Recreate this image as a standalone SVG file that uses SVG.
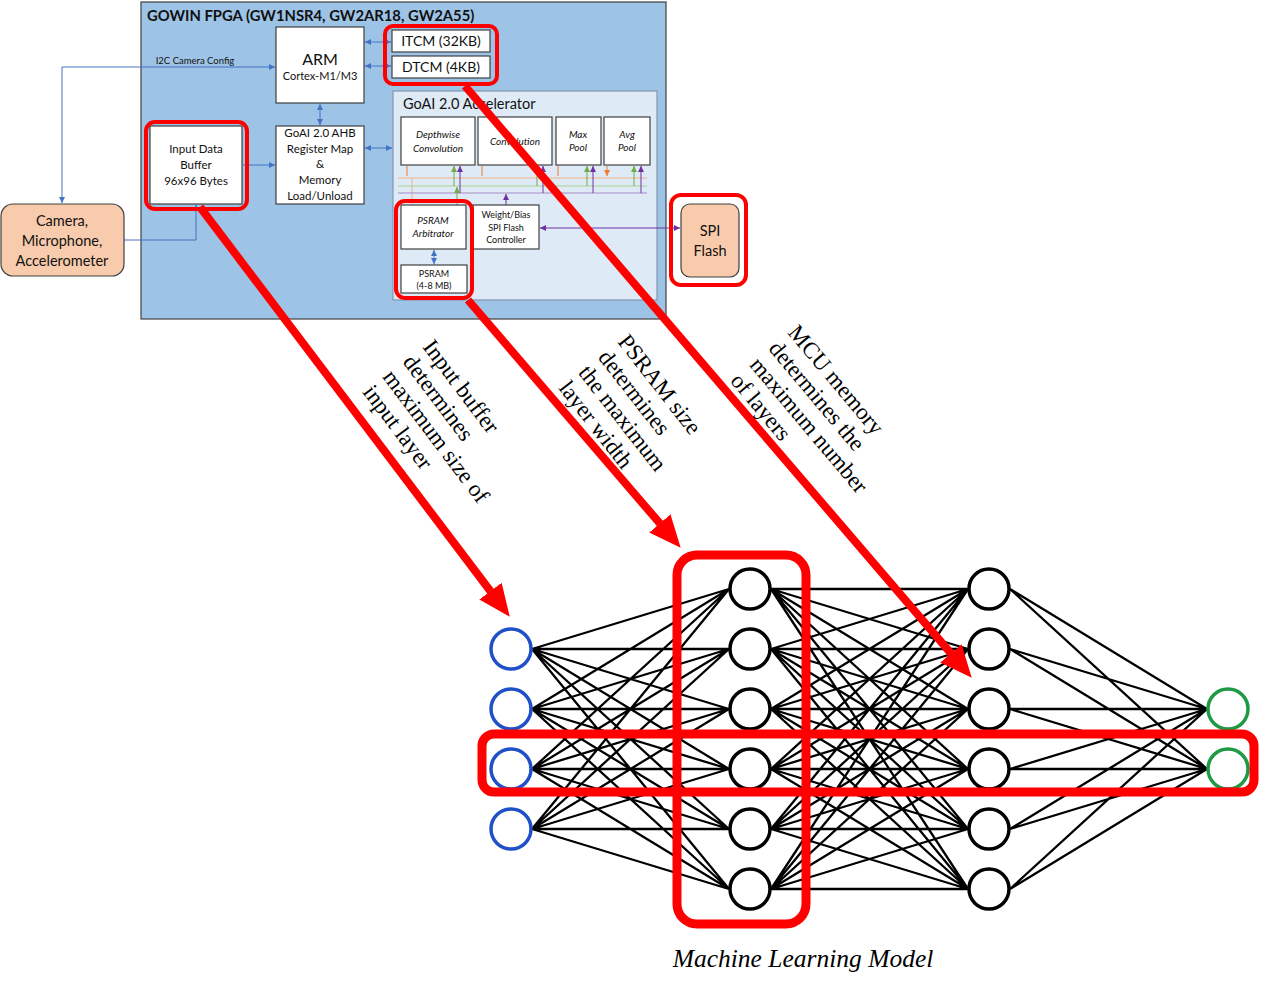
<svg xmlns="http://www.w3.org/2000/svg" width="1288" height="989" viewBox="0 0 1288 989">
<style>
.box{fill:#fff;stroke:#404040;stroke-width:1.2}
.t{font-family:Lato,"Liberation Sans",sans-serif;fill:#111;text-anchor:middle}
.it{font-style:italic}
.hl{fill:none;stroke:#ff0000;stroke-width:4}
.big{fill:none;stroke:#ff0000;stroke-width:9}
.cb{fill:none;stroke:#4472c4;stroke-width:1}
.ann{font-family:"Liberation Serif","DejaVu Serif",serif;font-size:23px;fill:#000}
.nn{fill:none;stroke:#000;stroke-width:2.3}
.n{fill:#fff;stroke:#000;stroke-width:3.5}
.ni{fill:#fff;stroke:#2050c8;stroke-width:3.5}
.no{fill:#fff;stroke:#1e9a45;stroke-width:3.5}
.ra{fill:none;stroke:#ff0000;stroke-width:8;marker-end:url(#ra)}
</style>
<defs>
<marker id="ab" viewBox="0 0 10 10" refX="10" refY="5" markerWidth="6" markerHeight="6" markerUnits="userSpaceOnUse" orient="auto-start-reverse"><path d="M0,0L10,5L0,10z" fill="#4472c4"/></marker>
<marker id="ao" viewBox="0 0 10 10" refX="10" refY="5" markerWidth="6" markerHeight="6" markerUnits="userSpaceOnUse" orient="auto"><path d="M0,0L10,5L0,10z" fill="#ed7d31"/></marker>
<marker id="ag" viewBox="0 0 10 10" refX="10" refY="5" markerWidth="6" markerHeight="6" markerUnits="userSpaceOnUse" orient="auto"><path d="M0,0L10,5L0,10z" fill="#70ad47"/></marker>
<marker id="ap" viewBox="0 0 10 10" refX="10" refY="5" markerWidth="6" markerHeight="6" markerUnits="userSpaceOnUse" orient="auto-start-reverse"><path d="M0,0L10,5L0,10z" fill="#7030a0"/></marker>
<marker id="ra" viewBox="0 0 4 3.5" refX="0.05" refY="1.75" markerWidth="4" markerHeight="3.5" markerUnits="strokeWidth" orient="auto"><path d="M0,0L4,1.75L0,3.5z" fill="#ff0000"/></marker>
</defs>
<rect width="1288" height="989" fill="#fff"/>

<g id="fpga">
<rect x="141" y="2" width="525" height="317" fill="#9dc3e6" stroke="#404040" stroke-width="1.2"/>
<text class="t" x="147" y="21" style="text-anchor:start;font-weight:bold;font-size:14.8px">GOWIN FPGA (GW1NSR4, GW2AR18, GW2A55)</text>
</g>

<g id="accelerator">
<rect x="393" y="91" width="264" height="209" fill="#deebf7" stroke="#8497b0" stroke-width="1.2"/>
<text class="t" x="403" y="109" style="text-anchor:start;font-size:14.5px">GoAI 2.0 Accelerator</text>
</g>

<g id="connectors">
<path class="cb" d="M62,203V67H275" marker-start="url(#ab)" marker-end="url(#ab)"/>
<text class="t" x="195" y="64" style="font-size:9.5px">I2C Camera Config</text>
<path class="cb" d="M124,240H196V205" marker-end="url(#ab)"/>
<path class="cb" d="M365,42H391" marker-start="url(#ab)" marker-end="url(#ab)"/>
<path class="cb" d="M365,66H391" marker-start="url(#ab)" marker-end="url(#ab)"/>
<path class="cb" d="M320,104V125" marker-start="url(#ab)" marker-end="url(#ab)"/>
<path class="cb" d="M243,165H275" marker-end="url(#ab)"/>
<path class="cb" d="M365,148H392" marker-start="url(#ab)" marker-end="url(#ab)"/>
<path class="cb" d="M434,250V264" marker-start="url(#ab)" marker-end="url(#ab)"/>
<path d="M540,228H680" fill="none" stroke="#7030a0" stroke-width="1" marker-start="url(#ap)" marker-end="url(#ap)"/>
<g fill="none" stroke-width="1">
<path d="M398,178H647M412,178V205" stroke="#f4b183"/>
<path d="M398,186H647" stroke="#a9d18e"/>
<path d="M398,193H647" stroke="#a58bc7"/>
<path d="M407,166V176M482,166V176M558,166V176M607,166V176" stroke="#ed7d31" marker-end="url(#ao)"/>
<path d="M454,186V166" stroke="#70ad47" marker-end="url(#ag)"/>
<path d="M537,186V166" stroke="#70ad47" marker-end="url(#ag)"/>
<path d="M587,186V166" stroke="#70ad47" marker-end="url(#ag)"/>
<path d="M634,186V166" stroke="#70ad47" marker-end="url(#ag)"/>
<path d="M457,205V187" stroke="#70ad47" marker-end="url(#ag)"/>
<path d="M460,193V166" stroke="#7030a0" marker-end="url(#ap)"/>
<path d="M543,193V166" stroke="#7030a0" marker-end="url(#ap)"/>
<path d="M593,193V166" stroke="#7030a0" marker-end="url(#ap)"/>
<path d="M641,193V166" stroke="#7030a0" marker-end="url(#ap)"/>
<path d="M506,205V194" stroke="#7030a0" marker-end="url(#ap)"/>
</g>
<path class="nn" d="M532,649L729,589M532,649L729,649M532,649L729,709M532,649L729,769M532,649L729,829M532,649L729,889M532,709L729,589M532,709L729,649M532,709L729,709M532,709L729,769M532,709L729,829M532,709L729,889M532,769L729,589M532,769L729,649M532,769L729,709M532,769L729,769M532,769L729,829M532,769L729,889M532,829L729,589M532,829L729,649M532,829L729,709M532,829L729,769M532,829L729,829M532,829L729,889"/>
<path class="nn" d="M771,589L968,589M771,589L968,649M771,589L968,709M771,589L968,769M771,589L968,829M771,589L968,889M771,649L968,589M771,649L968,649M771,649L968,709M771,649L968,769M771,649L968,829M771,649L968,889M771,709L968,589M771,709L968,649M771,709L968,709M771,709L968,769M771,709L968,829M771,709L968,889M771,769L968,589M771,769L968,649M771,769L968,709M771,769L968,769M771,769L968,829M771,769L968,889M771,829L968,589M771,829L968,649M771,829L968,709M771,829L968,769M771,829L968,829M771,829L968,889M771,889L968,589M771,889L968,649M771,889L968,709M771,889L968,769M771,889L968,829M771,889L968,889"/>
<path class="nn" d="M1010,589L1207,709M1010,589L1207,769M1010,649L1207,709M1010,649L1207,769M1010,709L1207,709M1010,709L1207,769M1010,769L1207,709M1010,769L1207,769M1010,829L1207,709M1010,829L1207,769M1010,889L1207,709M1010,889L1207,769"/>
</g>

<g id="arm"><rect class="box" x="276" y="27" width="88" height="76"/>
<text class="t" x="320" y="65" style="font-size:16px">ARM</text>
<text class="t" x="320" y="80" style="font-size:11px">Cortex-M1/M3</text></g>
<g id="itcm"><rect class="box" x="392" y="30" width="98" height="22"/>
<text class="t" x="441" y="46" style="font-size:14px">ITCM (32KB)</text></g>
<g id="dtcm"><rect class="box" x="392" y="56" width="98" height="22"/>
<text class="t" x="441" y="72" style="font-size:14px">DTCM (4KB)</text></g>
<g id="input-buffer"><rect class="box" x="150" y="126" width="92" height="78"/>
<text class="t" x="196" y="153" style="font-size:11.5px">Input Data</text>
<text class="t" x="196" y="169" style="font-size:11.5px">Buffer</text>
<text class="t" x="196" y="185" style="font-size:11.5px">96x96 Bytes</text></g>
<g id="ahb"><rect class="box" x="276" y="126" width="88" height="78"/>
<text class="t" x="320" y="137" style="font-size:11.5px">GoAI 2.0 AHB</text>
<text class="t" x="320" y="153" style="font-size:11.5px">Register Map</text>
<text class="t" x="320" y="168" style="font-size:11.5px">&amp;</text>
<text class="t" x="320" y="184" style="font-size:11.5px">Memory</text>
<text class="t" x="320" y="200" style="font-size:11.5px">Load/Unload</text></g>
<g id="camera"><rect x="1" y="204" width="123" height="72" rx="12" fill="#f8cbad" stroke="#404040" stroke-width="1.2"/>
<text class="t" x="62" y="226" style="font-size:14.5px">Camera,</text>
<text class="t" x="62" y="246" style="font-size:14.5px">Microphone,</text>
<text class="t" x="62" y="266" style="font-size:14.5px">Accelerometer</text></g>
<g id="depthwise"><rect class="box" x="401" y="117" width="74" height="48"/>
<text class="t it" x="438" y="138" style="font-size:10px">Depthwise</text>
<text class="t it" x="438" y="152" style="font-size:10px">Convolution</text></g>
<g id="convolution"><rect class="box" x="478" y="117" width="74" height="48"/>
<text class="t it" x="515" y="145" style="font-size:10px">Convolution</text></g>
<g id="maxpool"><rect class="box" x="556" y="117" width="45" height="48"/>
<text class="t it" x="578" y="138" style="font-size:10px">Max</text>
<text class="t it" x="578" y="151" style="font-size:10px">Pool</text></g>
<g id="avgpool"><rect class="box" x="604" y="117" width="46" height="48"/>
<text class="t it" x="627" y="138" style="font-size:10px">Avg</text>
<text class="t it" x="627" y="151" style="font-size:10px">Pool</text></g>
<g id="psram-arbitrator"><rect class="box" x="401" y="205" width="65" height="44"/>
<text class="t it" x="433" y="224" style="font-size:10px">PSRAM</text>
<text class="t it" x="433" y="237" style="font-size:10px">Arbitrator</text></g>
<g id="weight-bias"><rect class="box" x="473" y="205" width="66" height="44"/>
<text class="t" x="506" y="218" style="font-size:9px">Weight/Bias</text>
<text class="t" x="506" y="231" style="font-size:9px">SPI Flash</text>
<text class="t" x="506" y="243" style="font-size:9px">Controller</text></g>
<g id="psram"><rect class="box" x="401" y="265" width="66" height="28"/>
<text class="t" x="434" y="277" style="font-size:9px">PSRAM</text>
<text class="t" x="434" y="289" style="font-size:9px">(4-8 MB)</text></g>
<g id="spi-flash"><rect x="681" y="204" width="58" height="73" rx="9" fill="#f8cbad" stroke="#404040" stroke-width="1.2"/>
<text class="t" x="710" y="236" style="font-size:14.5px">SPI</text>
<text class="t" x="710" y="256" style="font-size:14.5px">Flash</text></g>

<g id="highlights">
<rect class="hl" x="385" y="26" width="112" height="58" rx="8"/>
<rect class="hl" x="146" y="122" width="101" height="87" rx="9"/>
<rect class="hl" x="396" y="201" width="76" height="97" rx="9"/>
<rect class="hl" x="671" y="195" width="75" height="90" rx="10"/>
</g>

<g id="network-nodes">
<circle class="ni" cx="511" cy="649" r="20"/><circle class="ni" cx="511" cy="709" r="20"/><circle class="ni" cx="511" cy="769" r="20"/><circle class="ni" cx="511" cy="829" r="20"/>
<circle class="n" cx="750" cy="589" r="20"/><circle class="n" cx="750" cy="649" r="20"/><circle class="n" cx="750" cy="709" r="20"/><circle class="n" cx="750" cy="769" r="20"/><circle class="n" cx="750" cy="829" r="20"/><circle class="n" cx="750" cy="889" r="20"/>
<circle class="n" cx="989" cy="589" r="20"/><circle class="n" cx="989" cy="649" r="20"/><circle class="n" cx="989" cy="709" r="20"/><circle class="n" cx="989" cy="769" r="20"/><circle class="n" cx="989" cy="829" r="20"/><circle class="n" cx="989" cy="889" r="20"/>
<circle class="no" cx="1228" cy="709" r="20"/><circle class="no" cx="1228" cy="769" r="20"/>
</g>

<g id="network-highlights">
<rect class="big" x="482" y="734" width="772" height="58" rx="12"/>
<rect class="big" x="677" y="555" width="129" height="369" rx="20"/>
</g>

<g id="red-arrows">
<path class="ra" d="M200,207L490.7,591.5"/>
<path class="ra" d="M468,300L660.1,523.7"/>
<path class="ra" d="M465,86L951.2,653.7"/>
</g>

<g id="annotations">
<text class="ann" transform="translate(422,347) rotate(53)"><tspan x="0" y="0">Input buffer</tspan><tspan x="0" y="25">determines</tspan><tspan x="0" y="50">maximum size of</tspan><tspan x="0" y="75">input layer</tspan></text>
<text class="ann" transform="translate(617,342) rotate(52)"><tspan x="0" y="0">PSRAM size</tspan><tspan x="0" y="25">determines</tspan><tspan x="0" y="50">the maximum</tspan><tspan x="0" y="75">layer width</tspan></text>
<text class="ann" transform="translate(787,333) rotate(50)"><tspan x="0" y="0">MCU memory</tspan><tspan x="0" y="25">determines the</tspan><tspan x="0" y="50">maximum number</tspan><tspan x="0" y="75">of layers</tspan></text>
<text x="803" y="967" style="font-family:'Liberation Serif','DejaVu Serif',serif;font-style:italic;font-size:25.5px;text-anchor:middle">Machine Learning Model</text>
</g>
</svg>
